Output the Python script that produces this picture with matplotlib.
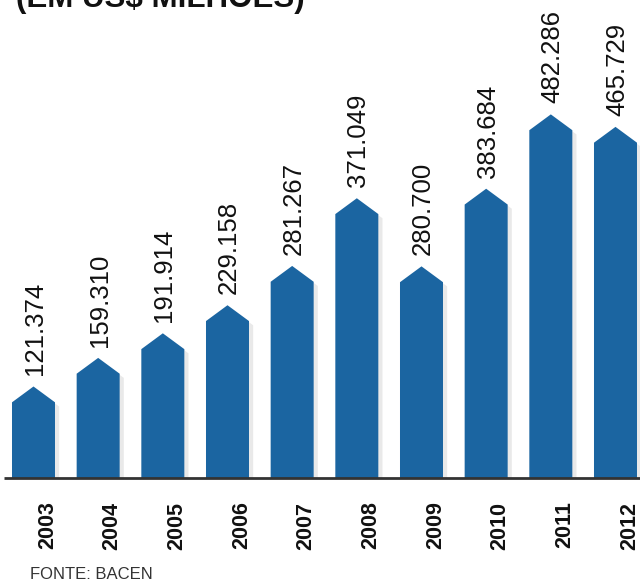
import matplotlib.pyplot as plt
import matplotlib.patheffects as pe
from matplotlib.patches import Polygon
from matplotlib import font_manager

years = ['2003', '2004', '2005', '2006', '2007', '2008', '2009', '2010', '2011', '2012']
values = [121.374, 159.310, 191.914, 229.158, 281.267, 371.049, 280.700, 383.684, 482.286, 465.729]
labels = ['121.374', '159.310', '191.914', '229.158', '281.267', '371.049', '280.700', '383.684', '482.286', '465.729']

blue = '#1b65a1'
names = {f.name for f in font_manager.fontManager.ttflist}
narrow = 'Liberation Sans Narrow' if 'Liberation Sans Narrow' in names else 'Liberation Sans'

fig = plt.figure(figsize=(6.4, 5.82), dpi=100)
ax = fig.add_axes([0, 104 / 582, 1, 478 / 582])
ax.set_xlim(-0.518, 9.379)
ax.set_ylim(0, 634)
ax.axis('off')

w = 0.665
tip = 21  # height of the pointed top, data units
shadow = [pe.SimplePatchShadow(offset=(3, -3), shadow_rgbFace='#aaaaaa', alpha=0.25), pe.Normal()]

for i, v in enumerate(values):
    pts = [(i - w / 2, 0), (i - w / 2, v - tip), (i, v), (i + w / 2, v - tip), (i + w / 2, 0)]
    ax.add_patch(Polygon(pts, closed=True, facecolor=blue, edgecolor='none', path_effects=shadow))
    ax.annotate(labels[i], (i, v), xytext=(1, 8), textcoords='offset points',
                rotation=90, ha='center', va='bottom', fontsize=18.5,
                family='Liberation Sans', color='#111111')
    ax.annotate(years[i], (i, 0), xytext=(10, -17), textcoords='offset points',
                rotation=90, ha='center', va='top', fontsize=15.5, fontweight='bold',
                family=narrow, color='#111111')

ax.plot([-0.45, 9.379], [0, 0], color='#333333', lw=2, solid_capstyle='butt', clip_on=False)

fig.text(16 / 640, 1 - 7 / 582, '(EM US$ MILHÕES)', fontsize=22.5, fontweight='bold',
         family='Liberation Sans', color='#111111', ha='left', va='baseline')
fig.text(30 / 640, 1 - 579 / 582, 'FONTE: BACEN', fontsize=12, family=narrow,
         color='#333333', ha='left', va='baseline')

fig.savefig('out.png', dpi=100)
